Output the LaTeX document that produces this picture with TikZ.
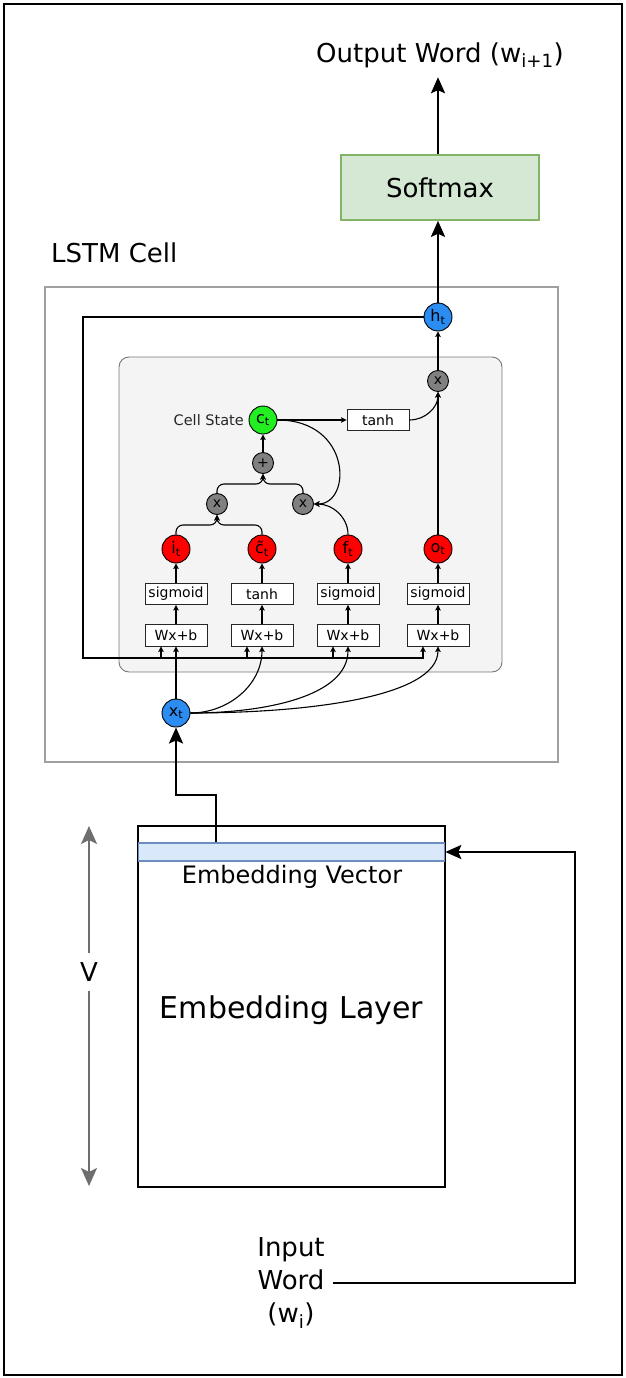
\documentclass[tikz,border=0pt]{standalone}
\usepackage{fontspec}
\setmainfont{DejaVu Sans}
\usetikzlibrary{arrows.meta}
\definecolor{cblue}{HTML}{2B8CF2}
\definecolor{cred}{HTML}{FF0000}
\definecolor{cgreen}{HTML}{22EE22}
\definecolor{cgray}{HTML}{808080}
\definecolor{smfill}{HTML}{D5E8D4}
\definecolor{smdraw}{HTML}{82B366}
\definecolor{evfill}{HTML}{DAE8FC}
\definecolor{evdraw}{HTML}{6C8EBF}
\definecolor{lstmgray}{HTML}{A0A0A0}
\definecolor{innerfill}{HTML}{F4F4F4}
\definecolor{innerdraw}{HTML}{777777}
\definecolor{vgray}{HTML}{6E6E6E}
\tikzset{
  thinl/.style={line width=1.1pt, black},
  arr/.style={thinl, -{Stealth[length=5.5pt,width=5.5pt,inset=1pt]}},
  bigarr/.style={line width=2.5pt, black, -{Stealth[length=16pt,width=14pt,inset=3pt]}},
  circ/.style={circle, draw=black, line width=0.9pt, inner sep=0pt, font=\fontsize{16}{18}\selectfont},
  gate/.style={circ, fill=cred, minimum size=28pt},
  opc/.style={circ, fill=cgray, minimum size=21pt, font=\fontsize{14}{16}\selectfont},
  fbox/.style={rectangle, draw=black!85, fill=white, line width=0.9pt, minimum width=62pt, minimum height=21pt, inner sep=0pt, font=\fontsize{14}{16}\selectfont},
  bigtxt/.style={font=\fontsize{26}{31}\selectfont},
}
\begin{document}
\begin{tikzpicture}[x=1pt,y=-1pt]
\useasboundingbox (0,0) rectangle (626,1378);
\draw[line width=2pt, black] (4,4) rectangle (622,1375);

% top
\node[bigtxt, inner sep=0pt, minimum height=44pt] (out) at (440,55) {Output Word (w\textsubscript{i+1})};
\node[rectangle, fill=smfill, draw=smdraw, line width=1.6pt, minimum width=198pt, minimum height=65pt, bigtxt, inner sep=0pt] (soft) at (440,187.5) {Softmax};
\node[bigtxt, anchor=west, inner sep=0pt] (lstml) at (51,253) {LSTM Cell};

% LSTM cell boxes
\node[rectangle, draw=lstmgray, line width=2pt, minimum width=513pt, minimum height=475pt, inner sep=0pt] (lstm) at (301.5,524.5) {};
\node[rectangle, rounded corners=10pt, fill=innerfill, draw=innerdraw, line width=0.9pt, minimum width=383pt, minimum height=315pt, inner sep=0pt] (inner) at (310.5,514.5) {};

% nodes
\node[circ, fill=cblue, minimum size=28pt] (ht) at (438,317) {h\textsubscript{t}};
\node[opc] (mo) at (438,381) {x};
\node[circ, fill=cgreen, minimum size=28pt] (ct) at (263,420) {c\textsubscript{t}};
\node[anchor=east, font=\fontsize{14.5}{16}\selectfont, text=black!85, inner sep=0pt] (cslab) at (244,420) {Cell State};
\node[fbox] (tanhc) at (378,420) {tanh};
\node[opc] (plus) at (263,463) {+};
\node[opc] (m1) at (217,504) {x};
\node[opc] (m2) at (303,504) {x};

\node[gate] (it) at (176,549) {i\textsubscript{t}};
\node[gate] (ctil) at (262,549) {\~{c}\textsubscript{t}};
\node[gate] (ft) at (348,549) {f\textsubscript{t}};
\node[gate] (ot) at (438,549) {o\textsubscript{t}};

\node[fbox] (s1) at (176,594) {sigmoid};
\node[fbox] (s2) at (262,594) {tanh};
\node[fbox] (s3) at (348,594) {sigmoid};
\node[fbox] (s4) at (438,594) {sigmoid};

\node[fbox, minimum height=22pt] (w1) at (176,635) {Wx+b};
\node[fbox, minimum height=22pt] (w2) at (262,635) {Wx+b};
\node[fbox, minimum height=22pt] (w3) at (348,635) {Wx+b};
\node[fbox, minimum height=22pt] (w4) at (438,635) {Wx+b};

\node[circ, fill=cblue, minimum size=28pt] (xt) at (176,713) {x\textsubscript{t}};

% vertical gate arrows
\foreach \g/\s/\w in {it/s1/w1, ctil/s2/w2, ft/s3/w3, ot/s4/w4}{
  \draw[arr] (\w.north) -- (\s.south);
  \draw[arr] (\s.north) -- (\g.south);
}

% recurrent h line
\coordinate (hl) at (83,658);
\draw[arr] (ht.west) -| (hl) -| ([xshift=-15pt]w4.south);
\foreach \w in {w1,w2,w3}{
  \draw[arr] ([xshift=-15pt]\w.south |- hl) -- ([xshift=-15pt]\w.south);
}

% x_t inputs
\draw[arr] (xt.north) -- (w1.south);
\draw[arr] (xt.east) to[out=0,in=-90] (w2.south);
\draw[arr] (xt.east) to[out=0,in=-90,out looseness=1.1,in looseness=0.75] (w3.south);
\draw[arr] (xt.east) to[out=0,in=-90,out looseness=1.2,in looseness=0.5] (w4.south);

% gates to multipliers
\draw[arr, rounded corners=7pt] (it.north) |- (217,525) -- (m1.south);
\draw[arr, rounded corners=7pt] (ctil.north) |- (217,525) -- (m1.south);
\draw[arr] (ft.north) to[out=90,in=0] (m2.east);
\draw[arr] (ct.east) .. controls (352,420) and (352,504) .. (m2.east);
\draw[arr, rounded corners=7pt] (m1.north) |- (263,484) -- (plus.south);
\draw[arr, rounded corners=7pt] (m2.north) |- (263,484) -- (plus.south);
\draw[arr] (plus.north) -- (ct.south);
\draw[arr] (ct.east) -- (tanhc.west);
\draw[arr] (tanhc.east) to[out=0,in=-90] (mo.south);
\draw[arr] (ot.north) -- (mo.south);
\draw[arr] (mo.north) -- (ht.south);

% output arrows
\draw[bigarr] (ht.north) -- (ht.north |- soft.south);
\draw[bigarr] (soft.north -| ht.north) -- (out.south -| ht.north);

% embedding
\node[rectangle, draw=black, line width=2pt, minimum width=307pt, minimum height=361pt, inner sep=0pt] (emb) at (291.5,1006.5) {};
\node[font=\fontsize{30}{36}\selectfont, inner sep=0pt] (embl) at (291.5,1010) {Embedding Layer};
\node[rectangle, fill=evfill, draw=evdraw, line width=1.6pt, minimum width=306pt, minimum height=18pt, inner sep=0pt] (vec) at (291.5,852) {};
\node[font=\fontsize{24}{29}\selectfont, inner sep=0pt] (vecl) at (292,877) {Embedding Vector};

\coordinate (bend) at (176,795);
\draw[bigarr] ([xshift=-75.5pt]vec.north) |- (bend) -- (xt.south);

% V arrow
\node[font=\fontsize{26}{31}\selectfont, fill=white, inner sep=0pt, minimum height=38pt] (vlab) at (89,972) {V};
\coordinate (vtop) at (89,826);
\coordinate (vbot) at (89,1186);
\draw[line width=2pt, vgray, -{Stealth[length=18pt,width=16pt,inset=4pt]}] (vlab.north) -- (vtop);
\draw[line width=2pt, vgray, -{Stealth[length=18pt,width=16pt,inset=4pt]}] (vlab.south) -- (vbot);

% input word
\node[font=\fontsize{26}{33}\selectfont, align=center, inner sep=8pt] (inw) at (291,1283) {Input\\Word\\(w\textsubscript{i})};
\coordinate (rc) at (575,852);
\draw[bigarr] (inw.east) -| (rc) -- (vec.east);
\end{tikzpicture}
\end{document}
